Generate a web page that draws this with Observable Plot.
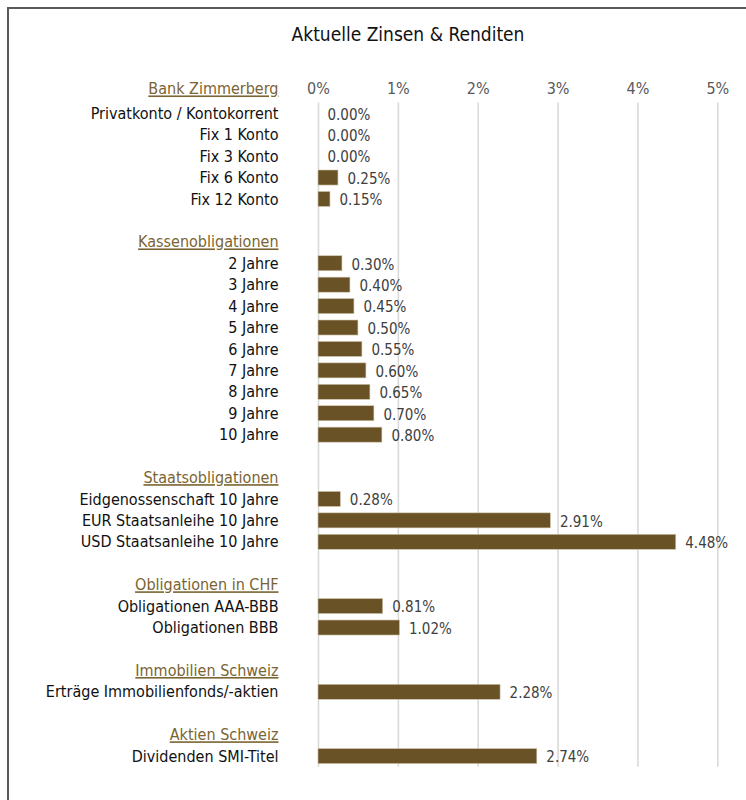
<!DOCTYPE html>
<html>
<head>
<meta charset="utf-8">
<script src="https://cdn.jsdelivr.net/npm/d3@7"></script>
<script src="https://cdn.jsdelivr.net/npm/@observablehq/plot@0.6"></script>
<style>
  html, body { margin: 0; padding: 0; background: #fff; overflow: hidden; width: 746px; height: 800px; }
  #frame { position: absolute; left: 7px; top: 7px; width: 900px; height: 900px;
           border-top: 2px solid #5a5a5a; border-left: 2px solid #5a5a5a; }
  #title { position: absolute; left: 0; top: 22px; width: 746px; height: 24px; line-height: 24px;
           padding-left: 70px; box-sizing: border-box; text-align: center;
           font-family: "Liberation Sans Narrow", "DejaVu Sans Condensed", Roboto, sans-serif;
           font-size: 19px; color: #111; }
  #chart { position: absolute; left: 0; top: 60px; width: 746px; }
  #chart g[fill="#7a6432"] text { text-decoration: underline; }
</style>
</head>
<body>
<div id="frame"></div>
<div id="title">Aktuelle Zinsen &amp; Renditen</div>
<div id="chart"></div>
<script>
const groups = ["Bank Zimmerberg", "Kassenobligationen", "Staatsobligationen", "Obligationen in CHF", "Immobilien Schweiz", "Aktien Schweiz"];

const bankLabels = ["Privatkonto / Kontokorrent", "Fix 1 Konto", "Fix 3 Konto", "Fix 6 Konto", "Fix 12 Konto"];
const bankValues = [0.00, 0.00, 0.00, 0.25, 0.15];

const kasseLabels = ["2 Jahre", "3 Jahre", "4 Jahre", "5 Jahre", "6 Jahre", "7 Jahre", "8 Jahre", "9 Jahre", "10 Jahre"];
const kasseValues = [0.30, 0.40, 0.45, 0.50, 0.55, 0.60, 0.65, 0.70, 0.80];

const staatLabels = ["Eidgenossenschaft 10 Jahre", "EUR Staatsanleihe 10 Jahre", "USD Staatsanleihe 10 Jahre"];
const staatValues = [0.28, 2.91, 4.48];

const chfLabels = ["Obligationen AAA-BBB", "Obligationen BBB"];
const chfValues = [0.81, 1.02];

const immoLabels = ["Erträge Immobilienfonds/-aktien"];
const immoValues = [2.28];

const aktienLabels = ["Dividenden SMI-Titel"];
const aktienValues = [2.74];

const xTicks = [0, 1, 2, 3, 4, 5];

const groupLabels = [bankLabels, kasseLabels, staatLabels, chfLabels, immoLabels, aktienLabels];
const groupValues = [bankValues, kasseValues, staatValues, chfValues, immoValues, aktienValues];

// build one row per line (blank spacer, header, items)
const rows = [];
groups.forEach((g, gi) => {
  if (gi > 0) rows.push({key: "blank-" + gi, type: "blank"});
  rows.push({key: "hdr-" + g, label: g, type: "header", first: gi === 0});
  groupLabels[gi].forEach((l, i) => rows.push({key: l, label: l, value: groupValues[gi][i], type: "item"}));
});
const items = rows.filter(d => d.type === "item");
const headersFirst = rows.filter(d => d.type === "header" && d.first);
const headersRest = rows.filter(d => d.type === "header" && !d.first);
const firstItem = items[0].key;
const lastItem = items[items.length - 1].key;
const topRow = rows[0].key;

const FONT = '"Liberation Sans Narrow", "DejaVu Sans Condensed", Roboto, sans-serif';
const BAR = "#6a5227";
const HDR = "#7a6432";

const plot = Plot.plot({
  width: 746,
  height: 740,
  marginTop: 21.1,
  marginBottom: 33.2,
  marginLeft: 318,
  marginRight: 28.7,
  style: {fontFamily: FONT, fontSize: "16px", background: "transparent", overflow: "visible"},
  x: {domain: [0, 5], axis: null},
  y: {domain: rows.map(d => d.key), padding: 0, round: false, axis: null},
  marks: [
    Plot.ruleX(xTicks, {x: d => d, y1: () => firstItem, y2: () => lastItem, stroke: "#d9d9d9", strokeWidth: 1.6}),
    Plot.text(xTicks, {x: d => d, y: () => topRow, text: d => d + "%", fill: "#595959", fontSize: 16, dy: -3}),
    Plot.barX(items, {x: "value", y: "key", fill: BAR, stroke: "#cfc5ae", strokeWidth: 0.6, insetTop: 3.2, insetBottom: 3.2}),
    Plot.text(items, {x: "value", y: "key", text: d => d.value.toFixed(2) + "%", textAnchor: "start", dx: 9, dy: 1, fill: "#404040", fontSize: 15}),
    Plot.text(items, {frameAnchor: "left", y: "key", text: "label", textAnchor: "end", dx: -40, fill: "#111", fontSize: 16}),
    Plot.text(headersFirst, {frameAnchor: "left", y: "key", text: "label", textAnchor: "end", dx: -40, dy: -3, fill: HDR, fontSize: 16}),
    Plot.text(headersRest, {frameAnchor: "left", y: "key", text: "label", textAnchor: "end", dx: -40, fill: HDR, fontSize: 16})
  ]
});
document.getElementById("chart").appendChild(plot);
</script>
</body>
</html>
